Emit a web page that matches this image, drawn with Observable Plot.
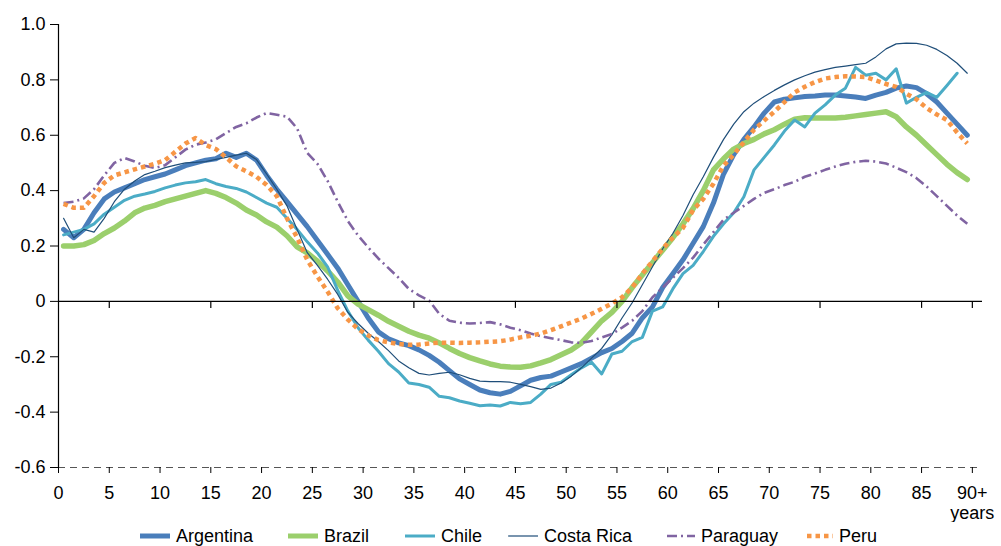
<!DOCTYPE html>
<html>
<head>
<meta charset="utf-8">
<script src="https://cdn.jsdelivr.net/npm/d3@7"></script>
<script src="https://cdn.jsdelivr.net/npm/@observablehq/plot@0.6"></script>
<style>
  body { margin: 0; background: #fff; font-family: "Liberation Sans", Arial, sans-serif; }
  #chart { width: 1001px; }
  #legend { position: relative; width: 1001px; height: 24px; margin-top: 2px; font-size: 18px; color: #000; }
  .item { position: absolute; top: 0; height: 24px; display: flex; align-items: center; white-space: nowrap; }
  .item svg { margin-right: 6px; }
</style>
</head>
<body>
<div id="chart"></div>
<script>
// Ages (single years, last one is the open "90+" group end)
const ages = [0,1,2,3,4,5,6,7,8,9,10,11,12,13,14,15,16,17,18,19,20,21,22,23,24,25,26,27,28,29,
  30,31,32,33,34,35,36,37,38,39,40,41,42,43,44,45,46,47,48,49,50,51,52,53,54,55,56,57,58,59,
  60,61,62,63,64,65,66,67,68,69,70,71,72,73,74,75,76,77,78,79,80,81,82,83,84,85,86,87,88,89];

const argentina = [0.26,0.23,0.26,0.32,0.37,0.395,0.41,0.425,0.44,0.45,
  0.46,0.475,0.49,0.50,0.51,0.515,0.535,0.52,0.535,0.51,
  0.455,0.405,0.36,0.315,0.27,0.22,0.17,0.12,0.06,0.0,
  -0.06,-0.11,-0.135,-0.15,-0.16,-0.175,-0.195,-0.22,-0.25,-0.28,
  -0.30,-0.32,-0.33,-0.335,-0.325,-0.305,-0.285,-0.275,-0.27,-0.255,
  -0.24,-0.225,-0.205,-0.185,-0.17,-0.145,-0.115,-0.06,-0.02,0.05,
  0.10,0.15,0.21,0.27,0.355,0.46,0.53,0.585,0.63,0.68,
  0.72,0.73,0.735,0.74,0.742,0.745,0.745,0.742,0.738,0.733,
  0.745,0.755,0.77,0.778,0.772,0.75,0.72,0.68,0.64,0.60];

const brazil = [0.20,0.20,0.205,0.22,0.245,0.265,0.29,0.32,0.337,0.347,
  0.36,0.37,0.38,0.39,0.40,0.39,0.375,0.355,0.33,0.312,
  0.287,0.268,0.237,0.197,0.175,0.145,0.11,0.07,0.02,-0.01,
  -0.03,-0.05,-0.072,-0.09,-0.108,-0.122,-0.133,-0.15,-0.17,-0.188,
  -0.203,-0.215,-0.226,-0.234,-0.237,-0.238,-0.233,-0.222,-0.21,-0.193,
  -0.176,-0.15,-0.11,-0.07,-0.04,0.0,0.05,0.095,0.14,0.185,
  0.23,0.28,0.335,0.40,0.475,0.515,0.55,0.57,0.585,0.605,
  0.62,0.64,0.658,0.663,0.662,0.662,0.662,0.665,0.67,0.675,
  0.68,0.685,0.667,0.63,0.60,0.565,0.53,0.495,0.465,0.44];

const chile = [0.24,0.25,0.26,0.28,0.315,0.34,0.365,0.38,0.388,0.397,
  0.41,0.42,0.428,0.432,0.44,0.425,0.415,0.408,0.395,0.375,
  0.355,0.34,0.30,0.26,0.215,0.175,0.125,0.04,-0.035,-0.095,
  -0.14,-0.18,-0.225,-0.255,-0.295,-0.30,-0.31,-0.343,-0.348,-0.36,
  -0.368,-0.377,-0.374,-0.378,-0.365,-0.37,-0.365,-0.335,-0.30,-0.292,
  -0.265,-0.24,-0.22,-0.262,-0.19,-0.18,-0.145,-0.13,-0.035,-0.02,
  0.045,0.10,0.13,0.18,0.235,0.28,0.32,0.378,0.475,0.52,
  0.565,0.615,0.655,0.63,0.68,0.71,0.745,0.77,0.845,0.817,
  0.824,0.80,0.84,0.716,0.737,0.755,0.737,0.78,0.824,null];

const costaRica = [0.30,0.23,0.26,0.25,0.30,0.36,0.405,0.435,0.458,0.47,
  0.483,0.492,0.50,0.502,0.505,0.513,0.52,0.528,0.535,0.512,
  0.46,0.405,0.345,0.26,0.176,0.13,0.08,0.025,-0.04,-0.08,
  -0.115,-0.145,-0.178,-0.215,-0.24,-0.26,-0.266,-0.26,-0.256,-0.265,
  -0.278,-0.288,-0.29,-0.29,-0.292,-0.30,-0.308,-0.318,-0.313,-0.295,
  -0.27,-0.24,-0.205,-0.17,-0.12,-0.06,-0.005,0.06,0.125,0.19,
  0.245,0.31,0.385,0.45,0.52,0.585,0.64,0.685,0.716,0.74,
  0.762,0.782,0.80,0.815,0.828,0.837,0.845,0.85,0.855,0.86,
  0.883,0.912,0.93,0.933,0.932,0.925,0.91,0.888,0.86,0.824];

const paraguay = [0.355,0.36,0.372,0.405,0.455,0.50,0.518,0.505,0.49,0.482,
  0.492,0.52,0.548,0.566,0.574,0.585,0.608,0.63,0.643,0.664,
  0.68,0.674,0.667,0.625,0.536,0.497,0.435,0.36,0.29,0.238,
  0.195,0.155,0.12,0.085,0.045,0.022,0.003,-0.045,-0.07,-0.077,
  -0.08,-0.078,-0.075,-0.083,-0.095,-0.104,-0.116,-0.126,-0.133,-0.14,
  -0.148,-0.15,-0.143,-0.13,-0.118,-0.095,-0.07,-0.035,0.015,0.05,
  0.085,0.12,0.158,0.205,0.25,0.295,0.32,0.345,0.37,0.392,
  0.405,0.42,0.432,0.45,0.462,0.475,0.487,0.497,0.504,0.508,
  0.505,0.498,0.483,0.467,0.445,0.415,0.38,0.345,0.31,0.28];

const peru = [0.352,0.338,0.338,0.38,0.428,0.455,0.466,0.477,0.487,0.497,
  0.51,0.54,0.57,0.59,0.565,0.55,0.52,0.488,0.47,0.45,
  0.42,0.38,0.30,0.23,0.15,0.09,0.035,-0.025,-0.066,-0.10,
  -0.123,-0.14,-0.148,-0.154,-0.157,-0.156,-0.152,-0.149,-0.149,-0.15,
  -0.149,-0.148,-0.146,-0.144,-0.138,-0.13,-0.124,-0.116,-0.104,-0.09,
  -0.076,-0.062,-0.045,-0.027,-0.008,0.015,0.05,0.10,0.145,0.19,
  0.23,0.265,0.33,0.37,0.425,0.49,0.53,0.575,0.62,0.653,
  0.685,0.72,0.755,0.775,0.792,0.805,0.81,0.813,0.812,0.81,
  0.798,0.785,0.775,0.75,0.73,0.698,0.675,0.655,0.61,0.57];

const countries = ["Argentina", "Brazil", "Chile", "Costa Rica", "Paraguay", "Peru"];
const yTicks = [-0.6, -0.4, -0.2, 0, 0.2, 0.4, 0.6, 0.8, 1.0];
const xTicks = [0, 5, 10, 15, 20, 25, 30, 35, 40, 45, 50, 55, 60, 65, 70, 75, 80, 85, 90];
const zeroLineTicks = [5, 15, 25, 35, 45, 55, 65, 75, 85, 90];
const xTickLabels = ["0","5","10","15","20","25","30","35","40","45","50","55","60","65","70","75","80","85","90+\nyears"];

const values = [argentina, brazil, chile, costaRica, paraguay, peru];
const styles = [
  {stroke: "#4a7ebb", width: 5,   dash: null},
  {stroke: "#9bcf6c", width: 5.5, dash: null},
  {stroke: "#4bacc6", width: 3,   dash: null},
  {stroke: "#1f4e79", width: 1.2, dash: null},
  {stroke: "#8064a2", width: 2.6, dash: "10,4,2,4"},
  {stroke: "#f79646", width: 4.5, dash: "4.5,4"}
];

const rows = countries.map((c, k) =>
  ages.map((a, i) => ({age: a, value: values[k][i], country: c})).filter(d => d.value != null)
);

const lineMarks = rows.map((data, k) => Plot.line(data, {
  x: d => d.age + 0.5,   // each single-year age sits at the centre of its category
  y: "value",
  stroke: styles[k].stroke,
  strokeWidth: styles[k].width,
  strokeDasharray: styles[k].dash,
  strokeLinecap: styles[k].dash ? "butt" : "round",
  strokeLinejoin: "round"
}));

const chart = Plot.plot({
  width: 1001,
  height: 522,
  marginLeft: 58,
  marginRight: 19,
  marginTop: 24,
  marginBottom: 55,
  style: {fontFamily: "'Liberation Sans', Arial, sans-serif", fontSize: "18px", color: "#000", background: "#fff"},
  x: {domain: [0, 91], label: null},
  y: {domain: [-0.6, 1.0], label: null},
  marks: [
    Plot.ruleY([-0.6], {x1: 0, x2: 91, stroke: "#555", strokeWidth: 1.2, strokeDasharray: "7,5"}),
    Plot.axisX({ticks: xTicks, tickSize: 6, tickPadding: 11, tickFormat: d => xTickLabels[xTicks.indexOf(d)], lineHeight: 1.12, stroke: "#000", fill: "#000"}),
    Plot.axisY({ticks: yTicks, tickSize: 8, tickPadding: 5, tickFormat: d => d === 0 ? "0" : d.toFixed(1), stroke: "#000", fill: "#000"}),
    Plot.ruleX([0], {y1: -0.6, y2: 1.0, stroke: "#000", strokeWidth: 1.2}),
    ...lineMarks,
    Plot.ruleY([0], {x1: 0, x2: 91, stroke: "#000", strokeWidth: 1.3}),
    Plot.ruleX(zeroLineTicks, {y1: 0, y2: 0, insetBottom: -7, stroke: "#000", strokeWidth: 1.2})
  ]
});
document.getElementById("chart").appendChild(chart);

// Legend below the chart
const legend = document.createElement("div");
legend.id = "legend";
const legendLeft = [140, 288, 405, 508, 667, 807];
const swatchWidth = [30, 30, 30, 30, 28, 26];
countries.forEach((c, k) => {
  const item = document.createElement("div");
  item.className = "item";
  item.style.left = legendLeft[k] + "px";
  const w = swatchWidth[k];
  const s = styles[k];
  item.innerHTML = `<svg width="${w}" height="12"><line x1="0" x2="${w}" y1="6" y2="6" stroke="${s.stroke}" stroke-width="${Math.min(s.width, 5)}" ${s.dash ? `stroke-dasharray="${s.dash}"` : ""}/></svg><span>${c}</span>`;
  legend.appendChild(item);
});
document.body.appendChild(legend);
</script>
</body>
</html>
